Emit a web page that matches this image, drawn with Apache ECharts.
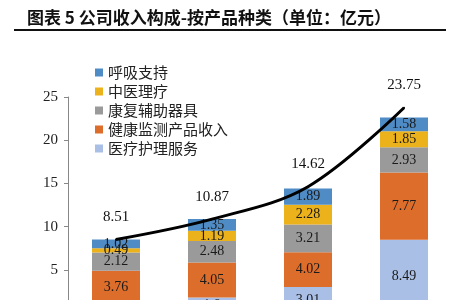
<!DOCTYPE html>
<html><head><meta charset="utf-8">
<script src="https://cdn.jsdelivr.net/npm/echarts@6/dist/echarts.min.js"></script>
<style>html,body{margin:0;padding:0;background:#fff}#c{width:450px;height:300px}</style>
</head><body><div id="c"></div>
<script>
const categories = ['2017', '2018', '2019', '2020'];
const medicalCare = [1.12, 1.80, 3.01, 8.49];
const healthMonitor = [3.76, 4.05, 4.02, 7.77];
const rehabAids = [2.12, 2.48, 3.21, 2.93];
const tcmTherapy = [0.49, 1.19, 2.28, 1.85];
const respiratory = [1.02, 1.35, 1.89, 1.58];
const totals = [8.51, 10.87, 14.62, 23.75];
const yTicks = [0, 5, 10, 15, 20, 25];

const serif = '"Liberation Serif", "Noto Serif CJK SC", serif';
const chart = echarts.init(document.getElementById('c'));
const inLabel = { show: true, position: 'inside', color: '#1a1a1a', fontFamily: serif, fontSize: 14 };
function barSeries(name, data, color) {
  return { name, type: 'bar', stack: 'rev', data, barWidth: 48, itemStyle: { color }, label: inLabel,
    labelLayout: { hideOverlap: false } };
}
chart.setOption({
  animation: false,
  title: {
    text: '图表 5 公司收入构成-按产品种类（单位：亿元）',
    left: 22, top: 4,
    textStyle: { fontFamily: '"Noto Sans CJK SC"', fontWeight: 'bold', fontSize: 17, color: '#111' }
  },
  graphic: [{ type: 'line', shape: { x1: 14, y1: 30, x2: 446, y2: 30 }, style: { stroke: '#111', lineWidth: 2 } }],
  legend: {
    orient: 'vertical', left: 90, top: 60, itemGap: 4, itemWidth: 8, itemHeight: 8,
    icon: 'rect',
    data: ['呼吸支持', '中医理疗', '康复辅助器具', '健康监测产品收入', '医疗护理服务'],
    textStyle: { fontFamily: '"Noto Sans CJK SC"', fontSize: 15, color: '#222' }
  },
  grid: { left: 68, right: -2, top: 97, bottom: -13, outerBoundsMode: 'none', containLabel: false },
  xAxis: {
    type: 'category', data: categories,
    axisLine: { lineStyle: { color: '#888' } }, axisTick: { show: false },
    axisLabel: { fontFamily: serif, fontSize: 14, color: '#222' }
  },
  yAxis: {
    type: 'value', min: 0, max: 25, interval: 5,
    axisLine: { show: true, lineStyle: { color: '#888' } },
    axisTick: { show: true, inside: false, length: 4, lineStyle: { color: '#888' } },
    splitLine: { show: false },
    axisLabel: { fontFamily: serif, fontSize: 15, color: '#222', margin: 10,
      formatter: v => yTicks.includes(v) ? String(v) : '' }
  },
  series: [
    barSeries('医疗护理服务', medicalCare, '#a9bfe6'),
    barSeries('健康监测产品收入', healthMonitor, '#dd6d2b'),
    barSeries('康复辅助器具', rehabAids, '#9a9a9a'),
    barSeries('中医理疗', tcmTherapy, '#ecb21c'),
    barSeries('呼吸支持', respiratory, '#4f8cc6'),
    {
      name: '合计', type: 'line', data: totals, smooth: 0.35,
      symbol: 'circle', symbolSize: 2, showSymbol: true, showAllSymbol: true,
      itemStyle: { color: '#000' },
      lineStyle: { color: '#000', width: 3 },
      label: { show: true, position: 'top', distance: 14, color: '#111', fontFamily: serif, fontSize: 15 },
      labelLayout: { hideOverlap: false },
      z: 10
    }
  ]
});
</script></body></html>
